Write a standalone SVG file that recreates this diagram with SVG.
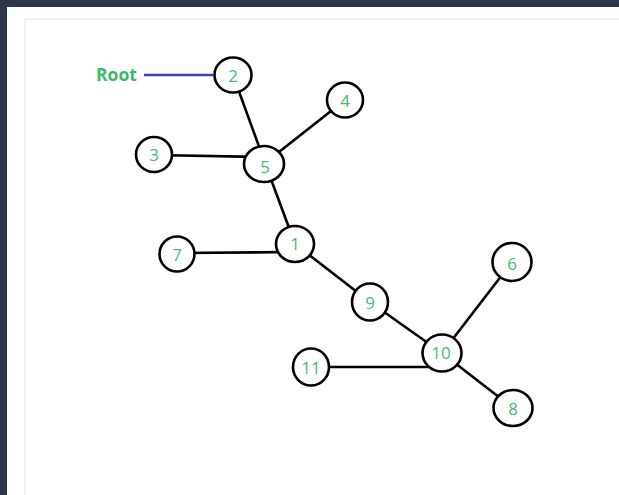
<svg xmlns="http://www.w3.org/2000/svg" width="619" height="495" viewBox="0 0 619 495">
<style>
.n ellipse{fill:#fff;stroke:#000;stroke-width:2.6}
.n text{font-family:"Open Sans","Liberation Sans",sans-serif;font-size:17px;fill:#4cb877;text-anchor:middle;dominant-baseline:central}
#edges line{stroke:#000;stroke-width:2.6}
</style>
<rect width="619" height="495" fill="#2e3647"/>
<rect x="7" y="7" width="612" height="488" fill="#fff"/>
<path d="M25 495V19H619" fill="none" stroke="#efefef" stroke-width="1.5"/>
<text x="96" y="74" font-family="'Open Sans','Liberation Sans',sans-serif" font-size="17.5" font-weight="bold" fill="#3dba6a" dominant-baseline="central">Root</text>
<g id="edges">
<line x1="144" y1="75" x2="213" y2="75" style="stroke:#3a3fc0;stroke-width:2.4"/>
<line x1="233" y1="75" x2="265" y2="163"/>
<line x1="265" y1="163" x2="345" y2="100"/>
<line x1="154" y1="155" x2="265" y2="157"/>
<line x1="265" y1="163" x2="295" y2="244"/>
<line x1="177" y1="253" x2="295" y2="252"/>
<line x1="295" y1="244" x2="370" y2="302"/>
<line x1="370" y1="302" x2="442" y2="353"/>
<line x1="442" y1="353" x2="512" y2="262"/>
<line x1="442" y1="353" x2="513" y2="408"/>
<line x1="311" y1="367" x2="440" y2="367"/>
</g>
<g id="n2" class="n"><ellipse cx="233" cy="75" rx="18.5" ry="17.5"/><text x="233" y="75">2</text></g>
<g id="n4" class="n"><ellipse cx="345" cy="100" rx="18" ry="17.5"/><text x="345" y="100">4</text></g>
<g id="n3" class="n"><ellipse cx="154" cy="154.5" rx="18" ry="17.5"/><text x="154" y="154.5">3</text></g>
<g id="n5" class="n"><ellipse cx="264" cy="164" rx="20" ry="18"/><text x="265" y="166">5</text></g>
<g id="n1" class="n"><ellipse cx="295" cy="244" rx="19" ry="18"/><text x="295" y="243">1</text></g>
<g id="n7" class="n"><ellipse cx="177" cy="254" rx="17.5" ry="17.5"/><text x="177" y="254">7</text></g>
<g id="n9" class="n"><ellipse cx="370" cy="302" rx="18" ry="18.5"/><text x="370" y="302">9</text></g>
<g id="n6" class="n"><ellipse cx="512" cy="262" rx="19.5" ry="19"/><text x="512" y="263">6</text></g>
<g id="n10" class="n"><ellipse cx="442" cy="353" rx="19.5" ry="18.5"/><text x="441" y="352">10</text></g>
<g id="n11" class="n"><ellipse cx="311" cy="367" rx="18" ry="18.5"/><text x="311" y="367">11</text></g>
<g id="n8" class="n"><ellipse cx="513" cy="408" rx="19.5" ry="18"/><text x="513" y="408">8</text></g>
</svg>
